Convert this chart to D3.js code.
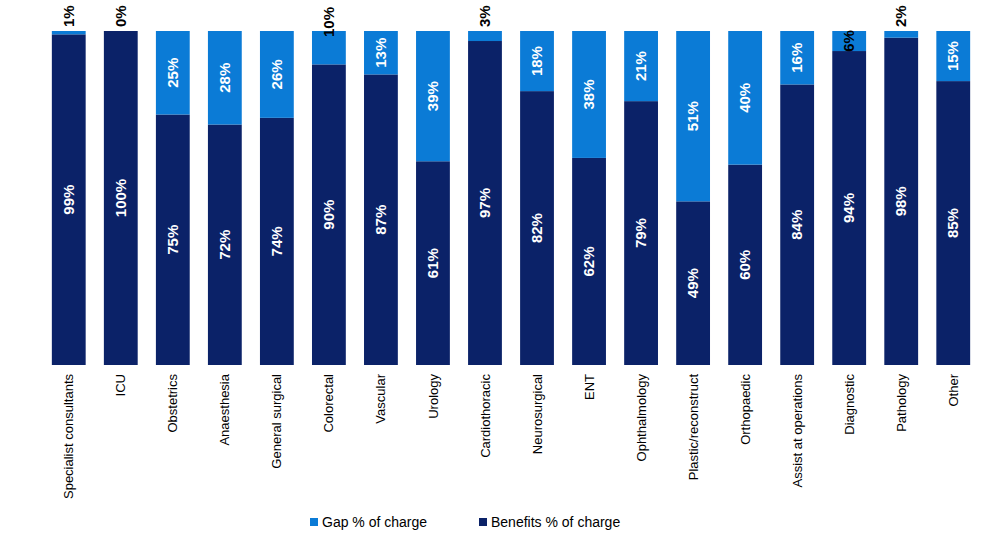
<!DOCTYPE html>
<html><head><meta charset="utf-8">
<script src="https://cdn.jsdelivr.net/npm/d3@7"></script>
<style>body{margin:0;background:#fff}svg{font-family:"Liberation Sans",Arial,sans-serif}</style>
</head><body><svg id="c" width="1000" height="539"></svg>
<script>
var categories = ["Specialist consultants","ICU","Obstetrics","Anaesthesia","General surgical","Colorectal","Vascular","Urology","Cardiothoracic","Neurosurgical","ENT","Ophthalmology","Plastic/reconstruct","Orthopaedic","Assist at operations","Diagnostic","Pathology","Other"];
var benefits = [99,100,75,72,74,90,87,61,97,82,62,79,49,60,84,94,98,85];
var gap = [1,0,25,28,26,10,13,39,3,18,38,21,51,40,16,6,2,15];

var dark = "#0b2268", light = "#0b7bd6";
var svg = d3.select("#c");
var x = d3.scaleBand().domain(categories).range([43, 979]).paddingInner(0.35).paddingOuter(0.17);
var y = d3.scaleLinear().domain([0, 100]).range([365, 31]);

var rows = categories.map(function(c, i) { return {c: c, b: benefits[i], g: gap[i]}; });

// benefits (bottom)
svg.selectAll("rect.b").data(rows).enter().append("rect")
	.attr("x", function(d) { return x(d.c); }).attr("width", x.bandwidth())
	.attr("y", function(d) { return y(d.b); })
	.attr("height", function(d) { return y(0) - y(d.b); })
	.attr("fill", dark);
// gap (top)
svg.selectAll("rect.g").data(rows).enter().append("rect")
	.attr("x", function(d) { return x(d.c); }).attr("width", x.bandwidth())
	.attr("y", function(d) { return y(d.b + d.g); })
	.attr("height", function(d) { return y(d.b) - y(d.b + d.g); })
	.attr("fill", light);

function rotText(cx, cy, txt, col, anchor) {
	svg.append("text").attr("transform", "translate(" + cx + "," + cy + ") rotate(-90)")
		.attr("text-anchor", anchor).attr("dy", "0.35em")
		.attr("font-size", 15).attr("font-weight", "bold").attr("fill", col).text(txt);
}

rows.forEach(function(d) {
	var cx = x(d.c) + x.bandwidth() / 2;
	rotText(cx, (y(0) + y(d.b)) / 2, d.b + "%", "#fff", "middle");
	var top = y(d.b + d.g), bot = y(d.b);
	if (d.g < 5) rotText(cx, 27, d.g + "%", "#000", "start");
	else if (d.g < 12) rotText(cx, d.g < 8 ? (top + bot) / 2 : 22, d.g + "%", "#000", "middle");
	else rotText(cx, (top + bot) / 2, d.g + "%", "#fff", "middle");
});

// category labels
svg.selectAll("text.cat").data(categories).enter().append("text")
	.attr("transform", function(d) { return "translate(" + (x(d) + x.bandwidth() / 2) + ",374) rotate(-90)"; })
	.attr("text-anchor", "end").attr("dy", "0.35em").attr("font-size", 13).attr("fill", "#000")
	.text(function(d) { return d; });

// legend
var leg = [{t: "Gap % of charge", c: light, x: 310}, {t: "Benefits % of charge", c: dark, x: 479}];
leg.forEach(function(l) {
	svg.append("rect").attr("x", l.x).attr("y", 518).attr("width", 8).attr("height", 8).attr("fill", l.c);
	svg.append("text").attr("x", l.x + 12).attr("y", 522).attr("dy", "0.35em").attr("font-size", 14).text(l.t);
});
</script></body></html>
